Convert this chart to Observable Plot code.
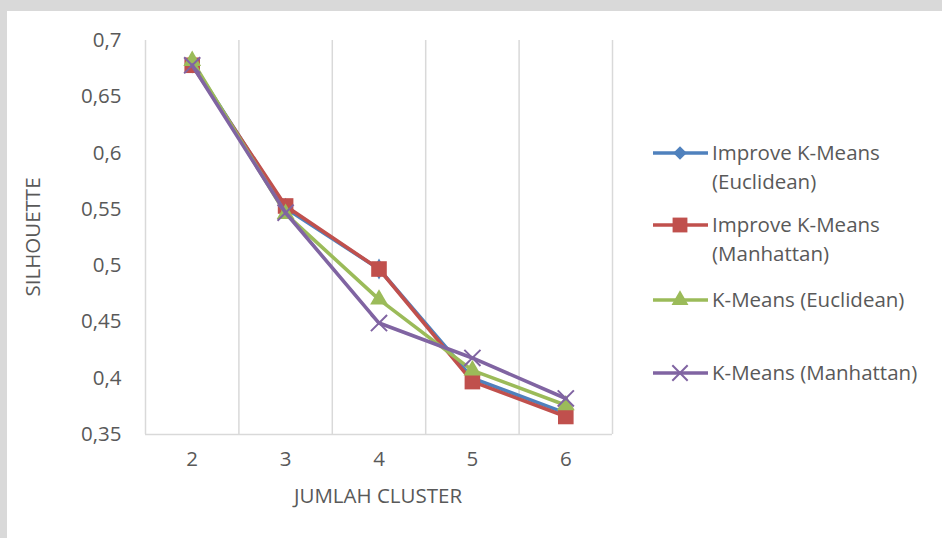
<!DOCTYPE html>
<html>
<head>
<meta charset="utf-8">
<script src="https://cdn.jsdelivr.net/npm/d3@7"></script>
<script src="https://cdn.jsdelivr.net/npm/@observablehq/plot@0.6"></script>
<style>
  html, body { margin: 0; padding: 0; background: #fff; }
  #wrap { position: relative; width: 942px; height: 538px; overflow: hidden; background: #fff; font-family: "Open Sans", sans-serif; }
  #topband { position: absolute; left: 0; top: 0; width: 942px; height: 11px; background: #d9d9d9; }
  #leftband { position: absolute; left: 0; top: 0; width: 7px; height: 538px; background: #d9d9d9; }
  #chart { position: absolute; left: 0; top: 0; }
  #legend { position: absolute; left: 0; top: 0; }
</style>
</head>
<body>
<div id="wrap">
  <div id="topband"></div>
  <div id="leftband"></div>
  <div id="chart"></div>
  <svg id="legend" width="942" height="538"></svg>
</div>
<script>
// ---- data ----
const clusters = [2, 3, 4, 5, 6];
const improveEuclidean = [0.680, 0.551, 0.497, 0.400, 0.369];
const improveManhattan = [0.678, 0.553, 0.497, 0.397, 0.366];
const kmeansEuclidean  = [0.682, 0.546, 0.470, 0.407, 0.376];
const kmeansManhattan  = [0.678, 0.547, 0.449, 0.418, 0.382];
const seriesNames = [
  "Improve K-Means (Euclidean)",
  "Improve K-Means (Manhattan)",
  "K-Means (Euclidean)",
  "K-Means (Manhattan)"
];
const yTicks = [0.35, 0.4, 0.45, 0.5, 0.55, 0.6, 0.65, 0.7];
const xTitle = "JUMLAH CLUSTER";
const yTitle = "SILHOUETTE";

const colors = ["#4F81BD", "#C0504D", "#9BBB59", "#8064A2"];
const symbols = ["diamond", "square", "triangle", "times"];
const radii = [6.4, 8.8, 6.6, 7.4];
const FS = 20.5;

const allSeries = [improveEuclidean, improveManhattan, kmeansEuclidean, kmeansManhattan];
const rows = [];
allSeries.forEach((vals, si) => vals.forEach((v, i) => rows.push({series: seriesNames[si], si, x: clusters[i], y: v})));

const gridX = clusters.map(c => c - 0.5).concat([clusters[clusters.length - 1] + 0.5]);
const fmt = v => String(+v.toFixed(2)).replace(".", ",");

const marks = [
  Plot.ruleX(gridX, {stroke: "#d9d9d9", strokeWidth: 1.5}),
  Plot.ruleY([yTicks[0]], {stroke: "#d9d9d9", strokeWidth: 1.5}),
  Plot.axisY({ticks: yTicks, tickSize: 0, tickPadding: 24, tickFormat: fmt, fontSize: FS, fill: "#595959", label: null}),
  Plot.axisX({ticks: clusters, tickSize: 0, tickPadding: 17, tickFormat: d => String(d), fontSize: FS, fill: "#595959", label: null})
];
allSeries.forEach((vals, si) => {
  const d = rows.filter(r => r.si === si);
  marks.push(Plot.line(d, {x: "x", y: "y", stroke: colors[si], strokeWidth: 3.6, strokeLinejoin: "round"}));
  if (symbols[si] === "times") {
    marks.push(Plot.dot(d, {x: "x", y: "y", symbol: "times", r: radii[si], stroke: colors[si], strokeWidth: 2}));
  } else {
    marks.push(Plot.dot(d, {x: "x", y: "y", symbol: symbols[si], r: radii[si], fill: colors[si], stroke: "none"}));
  }
});

const chart = Plot.plot({
  width: 942,
  height: 538,
  marginLeft: 145,
  marginRight: 330,
  marginTop: 40,
  marginBottom: 104,
  style: {background: "transparent", fontFamily: "'Open Sans', sans-serif", color: "#595959"},
  x: {domain: [1.5, 6.5]},
  y: {domain: [0.35, 0.7]},
  marks
});
document.getElementById("chart").appendChild(chart);

// axis titles
const svg = d3.select(chart);
svg.append("text").attr("x", 378).attr("y", 503).attr("text-anchor", "middle")
  .attr("fill", "#595959").style("font-size", FS + "px").style("font-family", "'Open Sans', sans-serif").text(xTitle);
svg.append("text").attr("transform", "translate(40,237) rotate(-90)").attr("text-anchor", "middle")
  .attr("fill", "#595959").style("font-size", FS + "px").style("font-family", "'Open Sans', sans-serif").text(yTitle);

// legend
const lg = d3.select("#legend");
const legendItems = [
  {lines: ["Improve K-Means", "(Euclidean)"], y: 153},
  {lines: ["Improve K-Means", "(Manhattan)"], y: 225},
  {lines: ["K-Means (Euclidean)"], y: 300},
  {lines: ["K-Means (Manhattan)"], y: 373}
];
legendItems.forEach((it, i) => {
  const g = lg.append("g");
  g.append("line").attr("x1", 653).attr("x2", 708).attr("y1", it.y).attr("y2", it.y)
    .attr("stroke", colors[i]).attr("stroke-width", 3.6);
  const sym = {diamond: d3.symbolDiamond2, square: d3.symbolSquare, triangle: d3.symbolTriangle, times: d3.symbolTimes}[symbols[i]];
  const r = radii[i] * 0.95;
  const p = g.append("path").attr("transform", `translate(680,${it.y})`)
    .attr("d", d3.symbol(sym, Math.PI * r * r)());
  if (symbols[i] === "times") p.attr("fill", "none").attr("stroke", colors[i]).attr("stroke-width", 2);
  else p.attr("fill", colors[i]);
  it.lines.forEach((t, k) => {
    g.append("text").attr("x", 712).attr("y", it.y + k * 29).attr("dy", "0.35em")
      .attr("fill", "#595959").style("font-size", FS + "px").style("font-family", "'Open Sans', sans-serif").text(t);
  });
});
</script>
</body>
</html>
